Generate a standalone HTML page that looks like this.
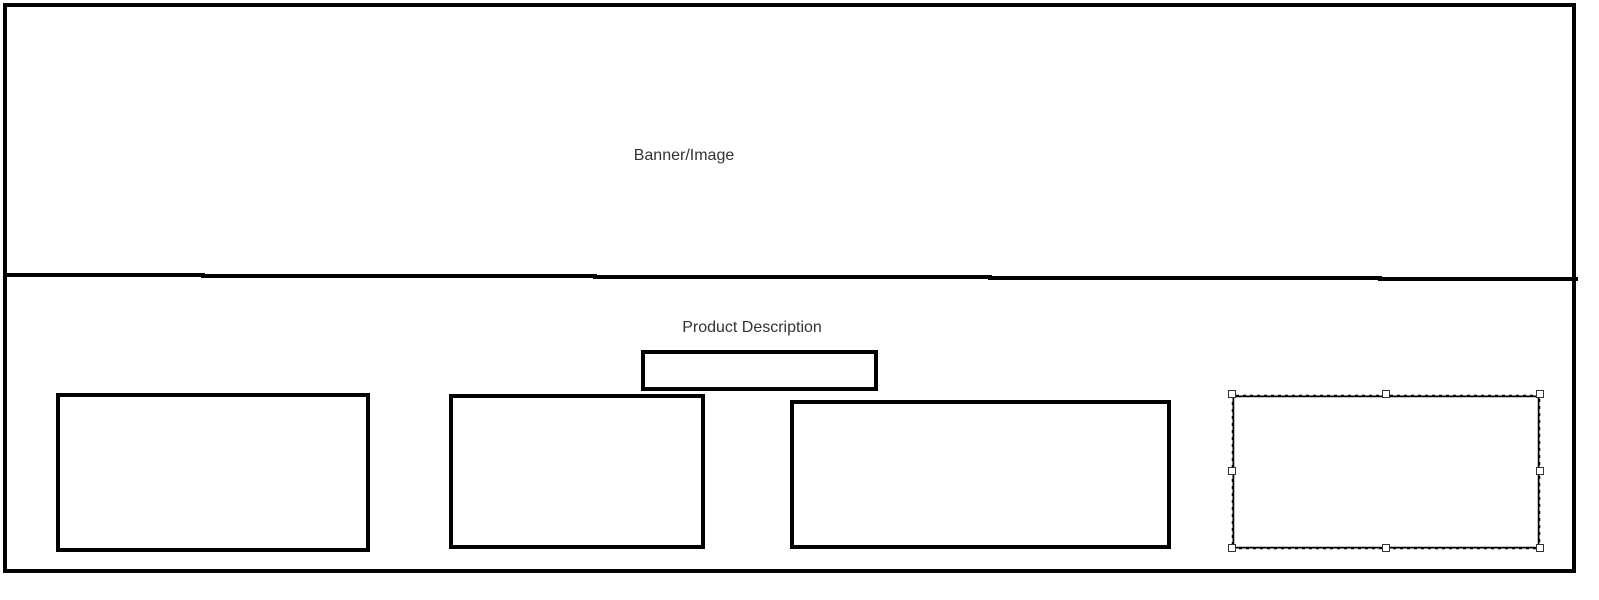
<!DOCTYPE html>
<html><head><meta charset="utf-8"><style>
html,body{margin:0;padding:0;background:#fff;width:1599px;height:600px;overflow:hidden}
svg{display:block}
text{font-family:"Liberation Sans",sans-serif;font-size:16px;fill:#333}
</style></head><body>
<svg width="1599" height="600" viewBox="0 0 1599 600">
<g fill="none" stroke="#000" stroke-width="4">
<rect x="5" y="5" width="1569" height="566"/>
<polyline points="5,275 203,275 203,276 595,276 595,277 990,277 990,278 1380,278 1380,279 1578,279"/>
<rect x="58" y="395" width="310" height="155"/>
<rect x="451" y="396" width="252" height="151"/>
<rect x="643" y="352" width="233" height="37"/>
<rect x="792" y="402" width="377" height="145"/>
</g>
<rect x="1233" y="396" width="306" height="152" fill="none" stroke="#000" stroke-width="2.5"/>
<rect x="1232" y="395" width="308" height="154" fill="none" stroke="#fff" stroke-width="1" stroke-dasharray="4 3"/>
<g fill="#fff" stroke="#333" stroke-width="1">
<rect x="1228.5" y="390.5" width="7" height="7"/><rect x="1382.5" y="390.5" width="7" height="7"/><rect x="1536.5" y="390.5" width="7" height="7"/>
<rect x="1228.5" y="467.5" width="7" height="7"/><rect x="1536.5" y="467.5" width="7" height="7"/>
<rect x="1228.5" y="544.5" width="7" height="7"/><rect x="1382.5" y="544.5" width="7" height="7"/><rect x="1536.5" y="544.5" width="7" height="7"/>
</g>
<text x="684" y="160" text-anchor="middle">Banner/Image</text>
<text x="752" y="332" text-anchor="middle">Product Description</text>
</svg>
</body></html>
